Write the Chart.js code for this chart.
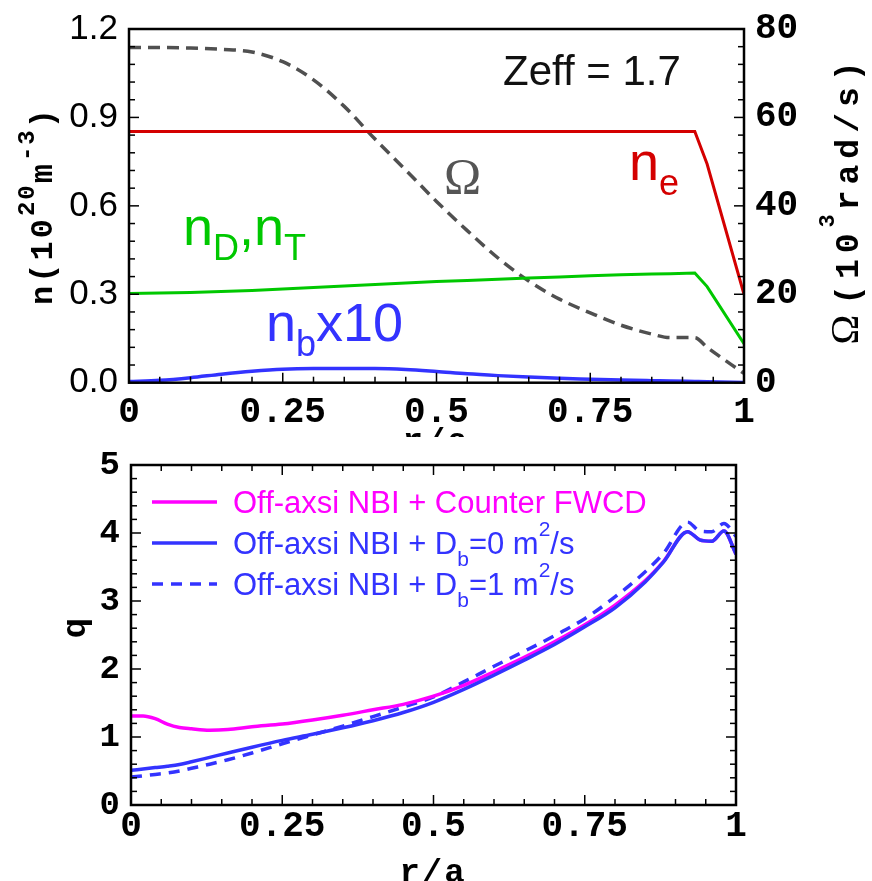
<!DOCTYPE html>
<html>
<head>
<meta charset="utf-8">
<script src="https://cdn.jsdelivr.net/npm/chart.js@4"></script>
<style>
  body { margin: 0; background: #fff; }
  #wrap { position: relative; width: 872px; height: 881px; overflow: hidden; background: #fff; }
  #top { position: absolute; left: 0; top: 0; width: 872px; height: 437px; }
  #bot { position: absolute; left: 0; top: 437px; width: 872px; height: 444px; background: #fff; }
</style>
</head>
<body>
<div id="wrap">
  <div id="top"><canvas id="densityChart" width="872" height="437"></canvas></div>
  <div id="bot"><canvas id="qChart" width="872" height="444"></canvas></div>
</div>
<script>
// ---- top panel: density and rotation profiles ----
const rTop = [0, 0.05, 0.1, 0.15, 0.2, 0.25, 0.3, 0.35, 0.4, 0.45, 0.5, 0.55, 0.6, 0.65, 0.7, 0.75, 0.8, 0.85, 0.88, 0.92, 0.94, 1.0];
const neTop = [0.852, 0.852, 0.852, 0.852, 0.852, 0.852, 0.852, 0.852, 0.852, 0.852, 0.852, 0.852, 0.852, 0.852, 0.852, 0.852, 0.852, 0.852, 0.852, 0.852, 0.742, 0.30];
const nDT = [0.303, 0.304, 0.306, 0.309, 0.313, 0.318, 0.323, 0.328, 0.333, 0.338, 0.343, 0.347, 0.351, 0.355, 0.359, 0.363, 0.366, 0.369, 0.370, 0.372, 0.326, 0.132];
const nbX10 = [0.004, 0.008, 0.017, 0.029, 0.039, 0.046, 0.048, 0.048, 0.048, 0.045, 0.038, 0.030, 0.024, 0.019, 0.015, 0.012, 0.009, 0.007, 0.006, 0.004, 0.003, 0.001];
const omega = [75.8, 75.8, 75.7, 75.4, 74.8, 72.6, 68.5, 62.5, 55.1, 48.1, 41.0, 34.4, 28.2, 23.0, 18.9, 15.8, 13.0, 11.0, 10.2, 10.2, 8.0, 2.1];

// ---- bottom panel: safety factor q ----
const rQ = [0, 0.02, 0.04, 0.06, 0.08, 0.1, 0.13, 0.16, 0.2, 0.25, 0.3, 0.35, 0.4, 0.45, 0.5, 0.55, 0.6, 0.65, 0.7, 0.75, 0.8, 0.85, 0.88, 0.92, 0.94, 0.96, 0.98, 1.0];
const qFwcd = [1.31, 1.31, 1.27, 1.19, 1.14, 1.12, 1.10, 1.11, 1.15, 1.19, 1.25, 1.32, 1.40, 1.48, 1.60, 1.76, 1.96, 2.17, 2.40, 2.65, 2.94, 3.30, 3.58, 4.02, 3.90, 3.88, 4.03, 3.69];
const qDb0 = [0.51, 0.53, 0.55, 0.57, 0.595, 0.635, 0.70, 0.765, 0.85, 0.95, 1.04, 1.135, 1.24, 1.36, 1.51, 1.70, 1.91, 2.13, 2.36, 2.62, 2.90, 3.28, 3.57, 4.02, 3.90, 3.88, 4.03, 3.69];
const qDb1 = [0.41, 0.43, 0.45, 0.47, 0.50, 0.54, 0.60, 0.665, 0.765, 0.90, 1.03, 1.16, 1.30, 1.44, 1.59, 1.81, 2.04, 2.26, 2.49, 2.74, 3.06, 3.43, 3.70, 4.16, 4.03, 4.02, 4.14, 3.95];

// tick labels
const rTicks = [0, 0.25, 0.5, 0.75, 1];
const nTicks = [0, 0.3, 0.6, 0.9, 1.2];
const omegaTicks = [0, 20, 40, 60, 80];
const qTicks = [0, 1, 2, 3, 4, 5];

const MONO = "'Liberation Mono', 'Courier New', monospace";
const SANS = "'Liberation Sans', Arial, sans-serif";
const SERIF = "'Liberation Serif', 'Times New Roman', serif";

function pts(xs, ys) {
  return xs.map((x, i) => ({ x: x, y: ys[i] }));
}

// draws text made of pieces (sub/superscripts)
function drawRich(ctx, parts, x, y, align) {
  let w = 0;
  parts.forEach(p => {
    ctx.font = p.font;
    ctx.letterSpacing = p.ls || "0px";
    w += ctx.measureText(p.t).width;
  });
  let cx = align === "center" ? x - w / 2 : x;
  parts.forEach(p => {
    ctx.font = p.font;
    ctx.letterSpacing = p.ls || "0px";
    ctx.fillText(p.t, cx, y + (p.dy || 0));
    cx += ctx.measureText(p.t).width;
  });
  ctx.letterSpacing = "0px";
}

// inward tick marks + frame
function tickMarks(chart, specs) {
  const ctx = chart.ctx;
  const a = chart.chartArea;
  ctx.save();
  ctx.strokeStyle = "#000";
  ctx.lineWidth = 1.5;
  specs.forEach(s => {
    const sc = chart.scales[s.axis];
    const n = Math.round((sc.max - sc.min) / s.minor);
    for (let i = 0; i <= n; i++) {
      const v = sc.min + i * s.minor;
      const major = s.major.some(m => Math.abs(m - v) < 1e-6);
      const len = major ? 10 : 6;
      const p = sc.getPixelForValue(v);
      s.sides.forEach(side => {
        ctx.beginPath();
        if (side === "bottom") { ctx.moveTo(p, a.bottom); ctx.lineTo(p, a.bottom - len); }
        if (side === "top") { ctx.moveTo(p, a.top); ctx.lineTo(p, a.top + len); }
        if (side === "left") { ctx.moveTo(a.left, p); ctx.lineTo(a.left + len, p); }
        if (side === "right") { ctx.moveTo(a.right, p); ctx.lineTo(a.right - len, p); }
        ctx.stroke();
      });
    }
  });
  ctx.lineWidth = 2.5;
  ctx.strokeRect(a.left, a.top, a.width, a.height);
  ctx.restore();
}

const noGrid = { display: false, drawTicks: false };
const monoTicks = { family: MONO, weight: "bold", size: 36, lineHeight: 1 };

// top chart
const topCtx = document.getElementById("densityChart").getContext("2d");
new Chart(topCtx, {
  type: "line",
  data: {
    datasets: [
      { label: "ne", data: pts(rTop, neTop), borderColor: "#d40000", borderWidth: 3, yAxisID: "y" },
      { label: "nD,nT", data: pts(rTop, nDT), borderColor: "#00c800", borderWidth: 3, yAxisID: "y" },
      { label: "nb x10", data: pts(rTop, nbX10), borderColor: "#3333ff", borderWidth: 3.5, yAxisID: "y", cubicInterpolationMode: "monotone" },
      { label: "Omega", data: pts(rTop, omega), borderColor: "#505050", borderWidth: 3.5, borderDash: [12, 7], yAxisID: "y2", cubicInterpolationMode: "monotone" },
    ],
  },
  options: {
    responsive: false,
    animation: false,
    layout: { padding: { top: 22.7, left: 0, right: 0, bottom: 0 }, autoPadding: false },
    plugins: { legend: { display: false }, tooltip: { enabled: false } },
    elements: { point: { radius: 0 }, line: { tension: 0 } },
    scales: {
      x: {
        type: "linear", min: 0, max: 1,
        afterBuildTicks: s => { s.ticks = rTicks.map(v => ({ value: v })); },
        afterFit: s => { s.height = 54.3; },
        grid: noGrid, border: { display: false },
        ticks: { font: monoTicks, color: "#000", padding: 12, maxRotation: 0, autoSkip: false, callback: v => String(v) },
      },
      y: {
        min: 0, max: 1.2,
        afterBuildTicks: s => { s.ticks = nTicks.map(v => ({ value: v })); },
        afterFit: s => { s.width = 129; },
        grid: noGrid, border: { display: false },
        ticks: { font: { family: SANS, size: 35, lineHeight: 1 }, color: "#000", padding: 11, autoSkip: false, callback: v => v.toFixed(1) },
      },
      y2: {
        position: "right", min: 0, max: 80,
        afterBuildTicks: s => { s.ticks = omegaTicks.map(v => ({ value: v })); },
        afterFit: s => { s.width = 128; },
        grid: noGrid, border: { display: false },
        ticks: { font: monoTicks, color: "#000", padding: 11, autoSkip: false, callback: v => String(v) },
      },
    },
  },
  plugins: [{
    id: "topDecor",
    afterDraw(chart) {
      tickMarks(chart, [
        { axis: "x", minor: 0.05, major: rTicks, sides: ["bottom"] },
        { axis: "y", minor: 0.06, major: nTicks, sides: ["left"] },
        { axis: "y2", minor: 4, major: omegaTicks, sides: ["right"] },
      ]);
      const ctx = chart.ctx;
      ctx.save();
      ctx.textBaseline = "alphabetic";
      ctx.textAlign = "left";
      // axis titles
      ctx.fillStyle = "#000";
      ctx.save();
      ctx.translate(52, 207);
      ctx.rotate(-Math.PI / 2);
      drawRich(ctx, [
        { t: "n(10", font: "bold 32px " + MONO, ls: "3px" },
        { t: "20", font: "bold 24px " + MONO, dy: -18, ls: "2px" },
        { t: "m", font: "bold 32px " + MONO, ls: "3px" },
        { t: "-3", font: "bold 24px " + MONO, dy: -18, ls: "2px" },
        { t: ")", font: "bold 32px " + MONO },
      ], 0, 0, "center");
      ctx.restore();
      ctx.save();
      ctx.translate(858, 200);
      ctx.rotate(-Math.PI / 2);
      drawRich(ctx, [
        { t: "\u03A9 ", font: "40px " + SERIF },
        { t: "(10", font: "bold 33px " + MONO, ls: "6px" },
        { t: "3", font: "bold 22px " + MONO, dy: -24, ls: "4px" },
        { t: "rad/s)", font: "bold 33px " + MONO, ls: "6px" },
      ], 0, 0, "center");
      ctx.restore();
      drawRich(ctx, [{ t: "r/a", font: "bold 34px " + MONO, ls: "2px" }], 436, 451, "center");
      // curve labels
      ctx.fillStyle = "#111";
      drawRich(ctx, [{ t: "Zeff = 1.7", font: "42px " + SANS }], 503, 85);
      ctx.fillStyle = "#555555";
      drawRich(ctx, [{ t: "\u03A9", font: "50px " + SERIF }], 444, 193);
      ctx.fillStyle = "#d40000";
      drawRich(ctx, [{ t: "n", font: "54px " + SANS }, { t: "e", font: "36px " + SANS, dy: 15 }], 629, 180);
      ctx.fillStyle = "#00c800";
      drawRich(ctx, [
        { t: "n", font: "54px " + SANS }, { t: "D", font: "36px " + SANS, dy: 15 },
        { t: ",n", font: "54px " + SANS }, { t: "T", font: "36px " + SANS, dy: 15 },
      ], 183, 245);
      ctx.fillStyle = "#3333ff";
      drawRich(ctx, [
        { t: "n", font: "54px " + SANS }, { t: "b", font: "36px " + SANS, dy: 15 },
        { t: "x10", font: "54px " + SANS },
      ], 266, 341);
      ctx.restore();
    },
  }],
});

// bottom chart
const legendRows = [
  { color: "#ff00ff", dash: [], parts: [["Off-axsi NBI + Counter FWCD", 0, 31]] },
  { color: "#3333ff", dash: [], parts: [["Off-axsi NBI + D", 0, 31], ["b", 12, 21], ["=0 m", 0, 31], ["2", -18, 21], ["/s", 0, 31]] },
  { color: "#3333ff", dash: [11, 8], parts: [["Off-axsi NBI + D", 0, 31], ["b", 12, 21], ["=1 m", 0, 31], ["2", -18, 21], ["/s", 0, 31]] },
];

const botCtx = document.getElementById("qChart").getContext("2d");
new Chart(botCtx, {
  type: "line",
  data: {
    datasets: [
      { label: "Off-axsi NBI + Db=0 m2/s", data: pts(rQ, qDb0), borderColor: "#3333ff", borderWidth: 3.5 },
      { label: "Off-axsi NBI + Counter FWCD", data: pts(rQ, qFwcd), borderColor: "#ff00ff", borderWidth: 3.5 },
      { label: "Off-axsi NBI + Db=1 m2/s", data: pts(rQ, qDb1), borderColor: "#3333ff", borderWidth: 3.5, borderDash: [11, 8] },
    ],
  },
  options: {
    responsive: false,
    animation: false,
    layout: { padding: { top: 13.7, left: 0, right: 136, bottom: 0 }, autoPadding: false },
    plugins: { legend: { display: false }, tooltip: { enabled: false } },
    elements: { point: { radius: 0 }, line: { tension: 0, cubicInterpolationMode: "monotone" } },
    scales: {
      x: {
        type: "linear", min: 0, max: 1,
        afterBuildTicks: s => { s.ticks = rTicks.map(v => ({ value: v })); },
        afterFit: s => { s.height = 76; },
        grid: noGrid, border: { display: false },
        ticks: { font: monoTicks, color: "#000", padding: 4, maxRotation: 0, autoSkip: false, callback: v => String(v) },
      },
      y: {
        min: 0, max: 5,
        afterBuildTicks: s => { s.ticks = qTicks.map(v => ({ value: v })); },
        afterFit: s => { s.width = 131; },
        grid: noGrid, border: { display: false },
        ticks: { font: { family: MONO, weight: "bold", size: 34, lineHeight: 1 }, color: "#000", padding: 11, autoSkip: false, callback: v => String(v) },
      },
    },
  },
  plugins: [{
    id: "botDecor",
    afterDraw(chart) {
      tickMarks(chart, [
        { axis: "x", minor: 0.05, major: rTicks, sides: ["bottom", "top"] },
        { axis: "y", minor: 0.2, major: qTicks, sides: ["left", "right"] },
      ]);
      const ctx = chart.ctx;
      ctx.save();
      ctx.textBaseline = "alphabetic";
      ctx.textAlign = "left";
      ctx.fillStyle = "#000";
      ctx.save();
      ctx.translate(85, 191);
      ctx.rotate(-Math.PI / 2);
      drawRich(ctx, [{ t: "q", font: "bold 34px " + MONO }], 0, 0, "center");
      ctx.restore();
      drawRich(ctx, [{ t: "r/a", font: "bold 34px " + MONO, ls: "2px" }], 433, 445, "center");
      // legend
      legendRows.forEach((row, i) => {
        const y = 65 + i * 41;
        ctx.save();
        ctx.strokeStyle = row.color;
        ctx.lineWidth = 3.5;
        ctx.setLineDash(row.dash);
        ctx.beginPath();
        ctx.moveTo(152, y);
        ctx.lineTo(217, y);
        ctx.stroke();
        ctx.restore();
        ctx.fillStyle = row.color;
        drawRich(ctx, row.parts.map(p => ({ t: p[0], dy: p[1], font: p[2] + "px " + SANS })), 233, y + 11);
      });
      ctx.restore();
    },
  }],
});
</script>
</body>
</html>
